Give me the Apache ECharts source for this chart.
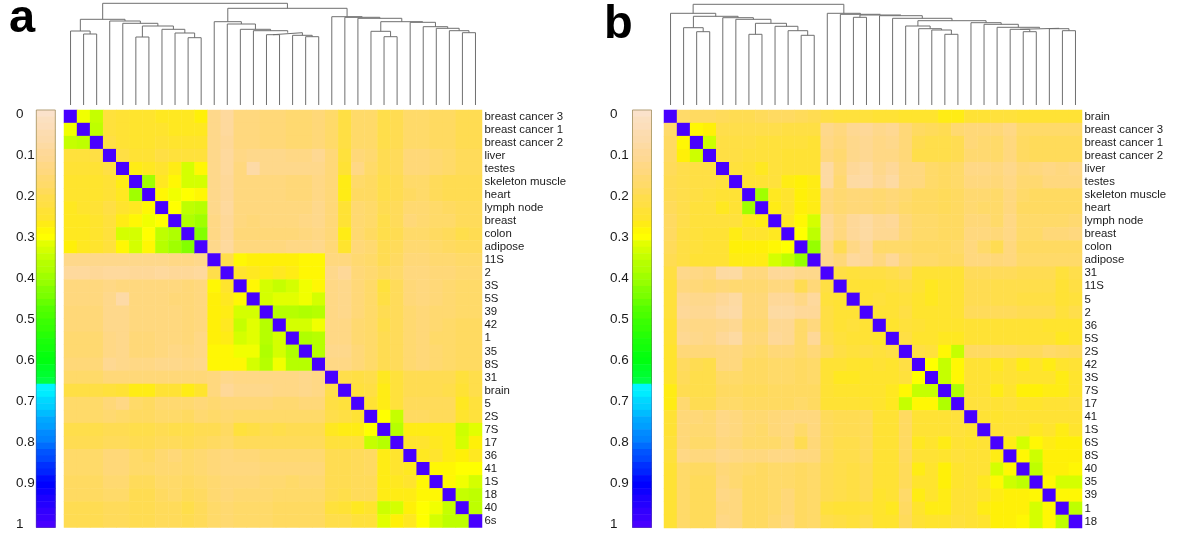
<!DOCTYPE html>
<html><head><meta charset="utf-8">
<style>html,body{margin:0;padding:0;background:#fff}#c{width:1200px;height:535px}</style>
<script src="https://cdn.jsdelivr.net/npm/echarts@6/dist/echarts.min.js"></script>
</head><body><div id="c"></div>
<script>
const labelsA = ["breast cancer 3","breast cancer 1","breast cancer 2","liver","testes","skeleton muscle","heart","lymph node","breast","colon","adipose","11S","2","3S","5S","39","42","1","35","8S","31","brain","5","2S","7S","17","36","41","1S","18","40","6s"];
const labelsB = ["brain","breast cancer 3","breast cancer 1","breast cancer 2","liver","testes","skeleton muscle","heart","lymph node","breast","colon","adipose","31","11S","5","2","36","5S","2S","42","3S","7S","17","41","1S","6S","8S","40","35","39","1","18"];
const barTicks = [0,0.1,0.2,0.3,0.4,0.5,0.6,0.7,0.8,0.9,1];
const barLevels = [0,2,3,5,6,8,10,11,13,14,16,17,19,21,22,24,25,27,29,30,32,33,35,37,38,40,41,43,44,46,48,49,51,52,54,56,57,59,60,62,63,65,67,68,70,71,73,75,76,78,79,81,83,84,86,87,89,90,92,94,95,97,98,100];
const colorStops = [[0,'#FBE2CB'],[.05,'#FCDCB0'],[.1,'#FED898'],[.15,'#FFD878'],[.2,'#FFDC52'],[.25,'#FFE42E'],[.28,'#FFF008'],[.3,'#FFFF00'],[.33,'#D4FF00'],[.4,'#A0FF00'],[.5,'#40FF00'],[.6,'#00FF10'],[.655,'#00FF48'],[.66,'#00FFFF'],[.8,'#0078FF'],[.9,'#0000FF'],[1,'#4800FF']];

// upper triangles (percent), row r holds columns r+1..31
const upperA = [
[31,35,23,24,25,25,26,26,26,28, 12,9,14,14,15,15,16,16,15,17, 22,17,17,21,20,17,17,18,18,20,20],
[36,23,24,25,25,25,26,26,26, 12,9,14,14,15,15,16,16,15,17, 22,17,17,21,20,17,17,18,18,20,20],
[22,24,25,25,24,25,25,25, 12,10,14,14,15,15,16,16,15,17, 22,17,17,21,20,17,17,18,18,20,20],
[22,24,24,22,23,23,23, 12,9,13,12,12,12,13,13,11,15, 23,15,16,20,19,15,15,16,17,19,19],
[27,26,25,27,33,29, 12,9,14,7,12,12,12,12,12,15, 24,13,17,20,19,15,15,16,17,19,19],
[40,26,29,33,33, 12,10,14,14,14,14,15,15,13,15, 27,17,18,21,20,17,17,19,20,20,20],
[29,31,30,29, 12,10,14,14,14,14,15,15,13,15, 27,18,18,21,20,18,17,19,20,20,20],
[30,36,37, 12,9,14,14,14,14,14,14,12,15, 24,16,17,20,19,16,16,17,18,19,19],
[38,40, 13,10,14,15,14,14,14,13,12,15, 24,16,17,21,19,15,16,17,17,19,19],
[43, 13,10,15,15,15,15,15,14,13,15, 27,16,18,21,20,17,17,18,19,21,20],
[12,9,14,14,14,14,13,13,12,15, 25,15,16,20,19,16,16,17,18,19,19],
[21,29,28,28,28,28,29,29, 14,14,16,17,20,18,15,15,16,16,17,17],
[25,26,27,26,27,29,29, 12,10,15,16,18,17,14,14,15,15,16,16],
[29,33,35,33,31,29, 13,12,15,17,23,19,15,14,15,16,17,17],
[33,32,32,31,33, 13,12,15,17,22,19,15,14,15,16,17,17],
[37,37,38,37, 13,12,15,17,20,19,16,15,16,16,17,17],
[33,33,31, 13,13,16,17,21,19,16,15,16,17,18,18],
[38,37, 13,13,16,17,20,19,16,15,17,17,18,18],
[37, 12,12,15,17,20,19,16,15,16,17,18,18],
[13,13,15,17,20,19,16,15,16,17,18,18],
[21,22,21,26,23,20,20,20,20,23,21],
[23,22,27,23,20,20,20,21,24,21],
[24,27,23,19,19,19,19,26,23],
[30,35,18,18,19,19,25,23],
[37,27,27,27,27,34,32],
[25,25,26,27,33,28],
[26,25,27,28,26],
[29,29,30,30],
[29,31,33],
[35,36],
[36]
];
const upperB = [
[17,18,18, 19,20,20,19,18,18,19,20, 22,23,23,23,24,24,25,25,25, 27,27,24,24,23,23,24,24,24,24,24],
[29,28, 21,21,21,21,21,22,22,22, 12,14,11,10,12,11,15,18,19,20,16,15,15,15,13,17,17,17,17,17],
[34, 22,22,22,23,23,23,23,24, 13,15,12,11,13,12,15,20,21,21,20,15,16,17,14,18,19,19,19,19],
[22,22,23,23,23,24,24,24, 14,16,12,11,13,13,15,21,21,21,20,16,16,17,14,18,19,19,19,19],
[23,24,26,23,24,24,24, 8,15,10,8,12,10,14,14,17,18,17,13,13,14,12,15,14,13,14,13],
[24,24,23,27,28,27, 8,16,8,7,11,8,14,14,17,18,17,14,14,15,13,16,16,14,14,14],
[40,26,25,28,27, 14,16,15,15,16,15,16,18,18,19,18,16,16,17,14,17,18,18,18,18],
[27,25,28,27, 14,16,15,15,16,15,17,18,18,19,18,16,17,17,14,18,18,18,18,18],
[26,29,33, 10,14,10,8,11,10,15,17,17,18,18,15,15,17,13,17,17,17,17,16],
[30,36, 10,14,10,8,11,11,15,17,17,18,18,14,14,15,13,17,17,15,15,14],
[41, 12,20,13,10,17,17,17,18,18,18,17,14,17,20,14,18,18,18,18,18],
[12,15,9,10,14,10,15,17,17,18,18,14,14,15,14,17,17,17,17,17],
[22,23,22,22,21,19,24,24,24,24,19,19,19,19,20,20,20,23,21],
[24,24,24,23,22,24,26,25,24,20,20,21,21,21,21,21,24,22],
[24,23,24,23,25,26,25,24,20,20,21,21,22,22,22,24,23],
[24,24,22,25,25,25,24,19,19,19,19,20,20,20,23,21],
[25,23,24,25,25,25,24,24,24,24,24,24,25,25,25],
[22,25,25,26,26,24,24,24,24,24,24,24,26,25],
[22,23,29,35,18,18,18,18,19,19,17,18,19],
[30,35,29,24,24,26,24,27,25,27,25,24],
[35,29,24,24,25,24,25,25,25,27,25],
[38,24,24,27,25,28,28,27,27,25],
[23,23,24,23,25,25,24,24,23],
[24,25,24,24,24,24,24,24],
[24,24,24,26,25,27,25],
[27,33,29,27,28,28],
[29,34,28,28,28],
[36,28,28,29],
[29,33,33],
[29,29],
[36]
];
// dendrograms: [left, right, merge height]; a number is a leaf position
const treeA = [
 [[0,[1,2,71],74],[3,[4,[[5,6,68],[7,[8,[9,10,67.3],72],75.7],79],81.7],84],85.7],
 [[11,[12,[13,[14,[[15,16,70.3],[17,[18,19,68.3],69.7],72.3],74.3],75.7],81],83.3],
  [20,[21,[22,[[23,[24,25,68.3],73.7],[26,[27,[28,[29,[30,31,72.3],74.3],76.7],78.3],82.7],83.3],86.7],87.7],88.3],96.7],
 101.7];
const treeB = [
 [0,[[1,[2,3,73.3],77.3],[4,[5,[[6,7,70.7],[8,[9,[10,11,69.7],74.3],78.7],81.7],85.7],87.3],88.7],91.7],
 [12,[13,[[14,15,87.7],[16,[17,[[18,[19,[20,[21,22,70.7],75],76.3],79],
   [23,[24,[25,[[26,[27,28,73.3],75.7],[29,[30,31,74.3],76.3],76.7],77.7],80.7],82.3],84.3],86.7],89.3],90],90.7],91.7],
 100.7];

const N = 32;
function hexRgb(h){return [1,3,5].map(i=>parseInt(h.substr(i,2),16));}
function ramp(t){
  for(let i=1;i<colorStops.length;i++){
    if(t<=colorStops[i][0]){
      const [p0,c0]=colorStops[i-1],[p1,c1]=colorStops[i];
      const f=(t-p0)/(p1-p0),a=hexRgb(c0),b=hexRgb(c1);
      return 'rgb('+a.map((v,k)=>Math.round(v+(b[k]-v)*f)).join(',')+')';
    }
  }
  return colorStops[colorStops.length-1][1];
}
const palette=[];for(let i=0;i<=400;i++)palette.push(ramp(i/400));

function cells(upper){
  const out=[];
  for(let r=0;r<N;r++){
    out.push([r,r,100]);
    upper[r]&&upper[r].forEach((v,k)=>{const c=r+1+k;out.push([c,r,v]);out.push([r,c,v]);});
  }
  return out;
}
function segs(node,out){
  if(typeof node==='number')return [node+.5,0];
  const l=segs(node[0],out),r=segs(node[1],out),h=node[2];
  out.push([l[0],l[1]],[l[0],h],[r[0],h],[r[0],r[1]],[null,null]);
  return [(l[0]+r[0])/2,h];
}
const idx=Array.from({length:N},(_,i)=>String(i));
const FONT='"Liberation Sans",Arial,sans-serif';
const grid=[],xAxis=[],yAxis=[],series=[],heatIdx=[];

function panel(p){
  const g0=grid.length;
  // heatmap
  grid.push({left:p.x,top:110,width:418,height:p.h});
  xAxis.push({type:'category',gridIndex:g0,data:idx,show:false});
  yAxis.push({type:'category',gridIndex:g0,data:p.labels,inverse:true,position:'right',
    axisLine:{show:false},axisTick:{show:false},splitLine:{show:false},
    axisLabel:{interval:0,margin:2.5,fontSize:11.4,color:'#1a1a1a',fontFamily:FONT}});
  heatIdx.push(series.length);
  series.push({type:'heatmap',xAxisIndex:g0,yAxisIndex:g0,data:cells(p.upper),progressive:0,animation:false});
  // dendrogram
  grid.push({left:p.x,top:0,width:418,height:105});
  xAxis.push({type:'value',gridIndex:g0+1,min:0,max:N,show:false});
  yAxis.push({type:'value',gridIndex:g0+1,min:0,max:105,show:false});
  const d=[];segs(p.tree,d);
  series.push({type:'line',xAxisIndex:g0+1,yAxisIndex:g0+1,data:d,symbol:'none',connectNulls:false,
    lineStyle:{width:1,color:'#6f6f6f'},animation:false,silent:true});
  // colour bar
  grid.push({left:p.barX,top:110,width:19,height:417.5});
  xAxis.push({type:'category',gridIndex:g0+2,data:['0'],show:false});
  yAxis.push({type:'category',gridIndex:g0+2,data:barLevels.map(String),inverse:true,show:false});
  heatIdx.push(series.length);
  series.push({type:'heatmap',xAxisIndex:g0+2,yAxisIndex:g0+2,data:barLevels.map((v,i)=>[0,i,v]),progressive:0,animation:false});
  // colour bar labels
  grid.push({left:p.barX,top:114,width:19,height:410});
  xAxis.push({type:'value',gridIndex:g0+3,min:0,max:1,show:false});
  yAxis.push({type:'value',gridIndex:g0+3,min:0,max:1,interval:0.1,inverse:true,
    axisLine:{show:false},axisTick:{show:false},splitLine:{show:false},
    axisLabel:{align:'left',margin:p.barX-p.tickX,fontSize:13.5,color:'#1a1a1a',fontFamily:FONT,
      formatter:v=>String(barTicks[Math.round(v*10)])}});
}
panel({x:64,h:417.5,labels:labelsA,upper:upperA,tree:treeA,barX:36.3,tickX:16});
panel({x:664,h:418,labels:labelsB,upper:upperB,tree:treeB,barX:632.5,tickX:610});

function barFrame(x){
  return {type:'rect',shape:{x:x,y:110,width:19,height:417.5},z:100,silent:true,
    style:{fill:'none',lineWidth:1,opacity:.75,stroke:{type:'linear',x:0,y:0,x2:0,y2:1,
      colorStops:[{offset:0,color:'#9c8a5e'},{offset:.3,color:'#a09a30'},{offset:.45,color:'#60a020'},{offset:.65,color:'#20a030'},{offset:.66,color:'#20a0c0'},{offset:.9,color:'#2020c0'},{offset:1,color:'#5020c0'}]}}};
}
const chart=echarts.init(document.getElementById('c'),null,{renderer:'canvas'});
chart.setOption({
  animation:false,backgroundColor:'#fff',
  title:[
    {text:'a',left:4,top:-9,textStyle:{fontSize:47,fontWeight:'bold',color:'#000',fontFamily:FONT}},
    {text:'b',left:599,top:-3,textStyle:{fontSize:47,fontWeight:'bold',color:'#000',fontFamily:FONT}}
  ],
  tooltip:{show:false},
  visualMap:{show:false,type:'continuous',min:0,max:100,seriesIndex:heatIdx,inRange:{color:palette}},
  grid,xAxis,yAxis,series,
  graphic:[barFrame(36.3),barFrame(632.5)]
});
</script></body></html>
